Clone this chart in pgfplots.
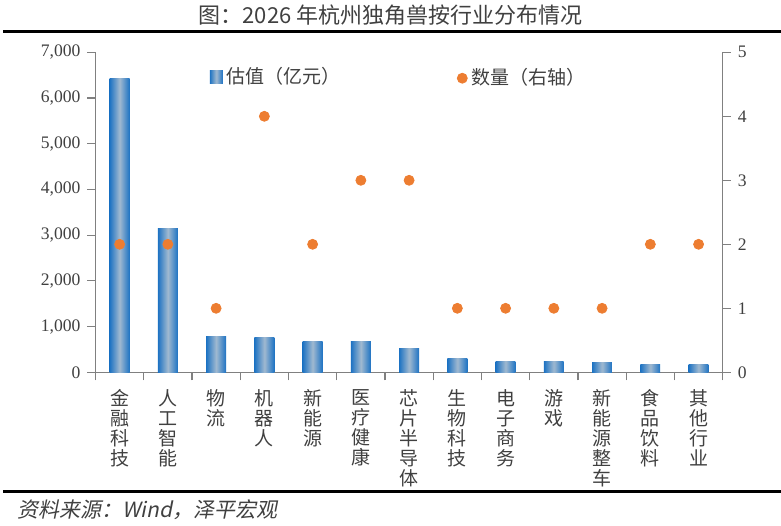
\documentclass[border=0pt]{standalone}
\usepackage{pgfplots}
\pgfplotsset{compat=1.18}
\usepackage{fontspec}
\setmainfont{Liberation Serif}
\newfontfamily\cjk{Noto Sans CJK SC}
\newfontfamily\cjksl[FakeSlant=0.2]{Noto Sans CJK SC}
\definecolor{barblue}{RGB}{30,115,195}
\definecolor{barlight}{RGB}{160,185,208}
\definecolor{dotorange}{RGB}{237,125,49}
\definecolor{axgray}{RGB}{128,128,128}
\definecolor{txtgray}{RGB}{64,64,64}
\pgfplotsset{mybar/.style={ybar, bar shift=0pt, bar width=9.9pt, draw=none, left color=barblue, right color=barblue, middle color=barlight}}
\begin{document}
\begin{tikzpicture}
\useasboundingbox (0,0) rectangle (390.5pt,262.5pt);
\node[font=\cjk\fontsize{11}{12}\selectfont, text=txtgray] at (195.25pt,255pt) {图：2026 年杭州独角兽按行业分布情况};
\draw[line width=1.3pt] (1.5pt,246.6pt) -- (390.5pt,246.6pt);
\draw[line width=1.5pt] (1.5pt,17pt) -- (390.5pt,17pt);
\node[anchor=west, font=\cjksl\fontsize{10.5}{12}\selectfont, text=txtgray, inner sep=0pt] at (8.5pt,7.5pt) {资料来源：Wind，泽平宏观};

\begin{axis}[
  at={(47.75pt,76.35pt)}, anchor=south west,
  scale only axis, width=313.6pt, height=160pt,
  xmin=-0.5, xmax=12.5, ymin=0, ymax=7000,
  axis y line*=left, axis x line*=bottom,
  axis line style={axgray, line width=0.6pt},
  x axis line style={-}, y axis line style={-},
  tick align=outside,
  ytick={0,1000,...,7000},
  major tick length=4pt, minor tick length=4pt,
  ytick style={axgray, line width=0.6pt},
  xtick={0,...,12},
  major x tick style={draw=none},
  minor xtick={-0.5,0.5,...,12.5},
  minor x tick style={axgray, line width=0.6pt},
  xticklabels={金\\融\\科\\技,人\\工\\智\\能,物\\流,机\\器\\人,新\\能\\源,医\\疗\\健\\康,芯\\片\\半\\导\\体,生\\物\\科\\技,电\\子\\商\\务,游\\戏,新\\能\\源\\整\\车,食\\品\\饮\\料,其\\他\\行\\业},
  x tick label style={align=center, font=\cjk\fontsize{9.5}{10}\selectfont, text=txtgray, anchor=north, yshift=-1pt},
  y tick label style={font=\fontsize{8.8}{10}\selectfont, text=txtgray},
  /pgf/number format/assume math mode=true,
  /pgf/number format/.cd, 1000 sep={,}, /pgfplots/.cd,
  legend style={draw=none, fill=none, at={(0.172,0.922)}, anchor=west, font=\cjk\fontsize{9.5}{10}\selectfont, text=txtgray},
  legend image code/.code={\shade[left color=barblue, right color=barblue, middle color=barlight] (0pt,-3pt) rectangle (6.5pt,3.5pt);},
]
\addplot[mybar] coordinates {(0,6430)};
\addlegendentry{估值（亿元）}
\addplot[mybar, forget plot] coordinates {(1,3150)};
\addplot[mybar, forget plot] coordinates {(2,790)};
\addplot[mybar, forget plot] coordinates {(3,770)};
\addplot[mybar, forget plot] coordinates {(4,670)};
\addplot[mybar, forget plot] coordinates {(5,670)};
\addplot[mybar, forget plot] coordinates {(6,525)};
\addplot[mybar, forget plot] coordinates {(7,305)};
\addplot[mybar, forget plot] coordinates {(8,245)};
\addplot[mybar, forget plot] coordinates {(9,232)};
\addplot[mybar, forget plot] coordinates {(10,205)};
\addplot[mybar, forget plot] coordinates {(11,175)};
\addplot[mybar, forget plot] coordinates {(12,160)};
\end{axis}

\begin{axis}[
  at={(47.75pt,76.35pt)}, anchor=south west,
  scale only axis, width=313.6pt, height=160pt,
  xmin=-0.5, xmax=12.5, ymin=0, ymax=5,
  axis y line*=right, axis x line=none,
  axis line style={axgray, line width=0.6pt},
  y axis line style={-},
  tick align=outside,
  ytick={0,...,5},
  major tick length=4pt,
  ytick style={axgray, line width=0.6pt},
  y tick label style={font=\fontsize{8.8}{10}\selectfont, text=txtgray},
  /pgf/number format/assume math mode=true,
  legend style={draw=none, fill=none, at={(0.566,0.919)}, anchor=west, font=\cjk\fontsize{9.5}{10}\selectfont, text=txtgray},
  legend image code/.code={\fill[dotorange] (2.5pt,0pt) circle (2.5pt);},
]
\addplot[only marks, mark=*, mark size=2.5pt, color=dotorange] coordinates {
(0,2) (1,2) (2,1) (3,4) (4,2) (5,3) (6,3) (7,1) (8,1) (9,1) (10,1) (11,2) (12,2)};
\addlegendentry{数量（右轴）}
\end{axis}
\end{tikzpicture}
\end{document}
